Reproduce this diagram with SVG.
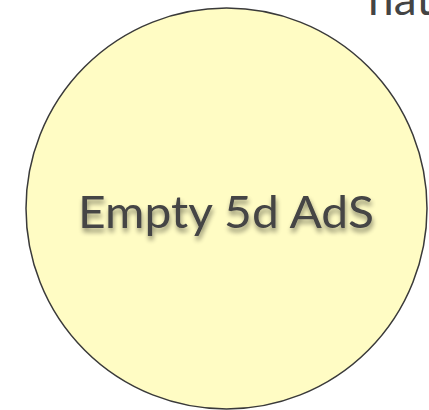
<svg xmlns="http://www.w3.org/2000/svg" width="429" height="410" viewBox="0 0 429 410">
<defs>
<style>
.lbl{font-family:"Lato","Open Sans","DejaVu Sans",sans-serif;fill:#444444}
</style>
<filter id="sh" x="-20%" y="-40%" width="140%" height="180%">
<feGaussianBlur in="SourceAlpha" stdDeviation="2.5"/>
<feOffset dx="1" dy="4" result="b"/>
<feComponentTransfer><feFuncA type="linear" slope="0.45"/></feComponentTransfer>
<feMerge><feMergeNode/><feMergeNode in="SourceGraphic"/></feMerge>
</filter>
</defs>
<rect width="429" height="410" fill="#ffffff"/>
<g id="top-label">
<text class="lbl" x="368" y="15" font-size="46">nat</text>
</g>
<g id="ads">
<circle cx="226.5" cy="208.5" r="200.5" fill="#fffcc4" stroke="#3a3a3a" stroke-width="1.5"/>
<text class="lbl" x="78" y="228" font-size="45" textLength="296" lengthAdjust="spacingAndGlyphs" filter="url(#sh)">Empty 5d AdS</text>
</g>
<g id="connectors"/>
</svg>
